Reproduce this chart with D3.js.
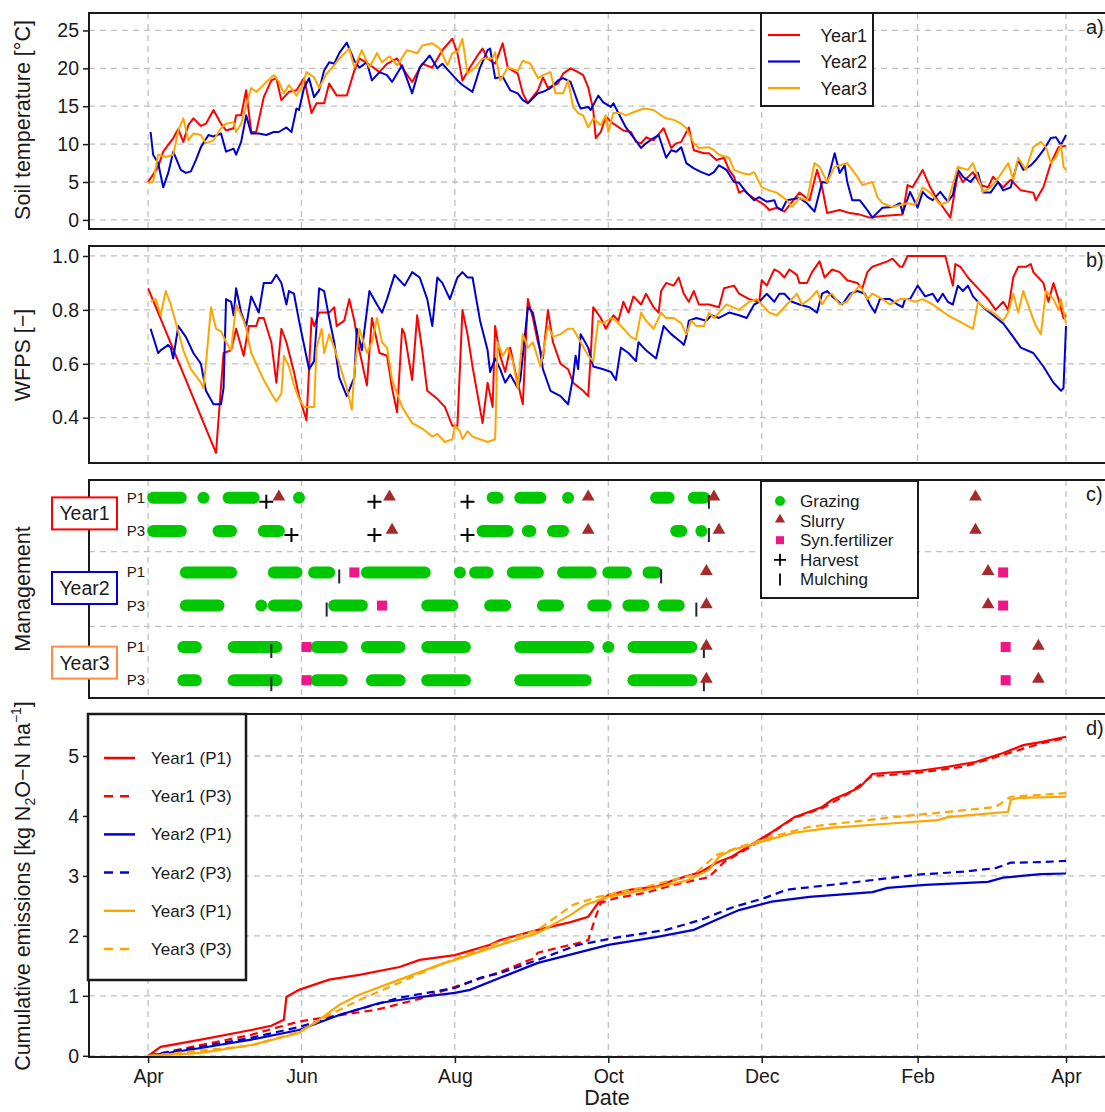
<!DOCTYPE html>
<html>
<head>
<meta charset="utf-8">
<script src="https://cdn.jsdelivr.net/npm/d3@7"></script>
<style>
  body { margin: 0; background: #fff; }
  svg { display: block; font-family: "Liberation Sans", Arial, sans-serif; }
</style>
</head>
<body>
<div id="chart"></div>
<script>
// ---- data (days since 1 April) ----
const monthDays = [0, 61, 122, 183, 244, 306, 365];
const monthLabels = ['Apr', 'Jun', 'Aug', 'Oct', 'Dec', 'Feb', 'Apr'];

const tempTicks = [0, 5, 10, 15, 20, 25];
const wfpsTicks = [0.4, 0.6, 0.8, 1.0];
const cumTicks = [0, 1, 2, 3, 4, 5];

const yearNames = ['Year1', 'Year2', 'Year3'];

// a) soil temperature [day, °C]
const tempY1 = [[0,5.0],[4,7.0],[6,9.0],[10,10.8],[12,12.0],[14,10.3],[16,12.5],[18,13.4],[21,12.4],[23,12.7],[26,14.5],[29,12.7],[31,11.8],[34,12.1],[35,13.8],[37,13.8],[39,17.1],[41,11.6],[43,11.6],[46,16.2],[49,18.4],[51,18.7],[53,15.8],[56,16.9],[59,17.1],[62,18.7],[65,14.1],[67,15.4],[70,15.4],[72,18.0],[75,16.4],[79,16.4],[82,19.7],[84,21.3],[88,20.5],[92,19.5],[95,20.6],[99,21.3],[101,20.1],[105,18.2],[109,20.6],[113,20.1],[117,22.4],[121,23.9],[123,22.0],[125,18.4],[128,20.1],[131,21.7],[133,22.6],[135,21.3],[138,20.6],[141,23.3],[143,20.1],[147,19.3],[149,16.7],[151,15.4],[155,17.1],[157,18.8],[159,17.4],[163,18.0],[165,19.3],[168,20.0],[171,19.5],[173,19.1],[175,17.5],[177,14.5],[178,10.8],[180,11.6],[182,13.6],[185,12.7],[189,11.8],[192,11.6],[194,10.3],[196,10.1],[198,10.9],[201,10.5],[205,12.1],[208,9.5],[210,10.1],[212,10.3],[215,12.2],[217,9.2],[221,8.8],[223,8.8],[226,7.9],[229,8.2],[231,6.6],[233,5.7],[235,3.6],[237,3.9],[239,3.3],[242,2.6],[245,2.0],[247,1.3],[250,1.6],[253,1.1],[259,3.6],[263,2.6],[266,6.6],[268,4.3],[270,0.9],[275,1.3],[279,0.9],[283,0.7],[287,0.3],[292,0.5],[300,0.7],[302,4.6],[304,4.3],[308,6.6],[311,4.3],[314,2.6],[316,1.7],[319,0.3],[322,6.2],[324,5.0],[328,6.3],[331,4.6],[334,4.3],[336,5.7],[340,4.3],[343,5.3],[347,3.9],[352,3.6],[353,2.6],[356,4.3],[359,7.5],[362,9.6],[365,9.8]];
const tempY2 = [[1,11.6],[2,8.6],[4,7.5],[6,4.3],[8,6.2],[10,9.0],[13,6.6],[15,6.2],[17,6.4],[19,7.9],[21,9.6],[24,11.2],[26,11.0],[29,11.4],[31,9.0],[34,9.4],[35,8.6],[37,10.3],[39,13.8],[41,11.4],[44,11.4],[47,11.2],[50,11.6],[52,11.6],[55,12.2],[57,11.6],[59,14.7],[60,14.5],[62,17.4],[64,18.7],[66,16.2],[68,17.1],[70,19.7],[72,20.8],[74,20.6],[76,22.0],[79,23.4],[82,21.0],[84,20.1],[87,20.8],[89,18.4],[92,19.5],[95,19.1],[97,18.2],[101,20.4],[105,16.7],[108,20.1],[112,21.7],[115,20.0],[117,20.6],[120,19.5],[123,18.4],[125,17.8],[129,16.9],[132,20.1],[135,22.4],[136,22.6],[138,18.7],[141,18.9],[144,17.1],[147,16.7],[149,15.8],[151,15.4],[155,16.7],[157,16.9],[160,17.4],[163,18.4],[165,18.7],[168,18.2],[171,15.4],[172,14.7],[175,14.9],[176,14.5],[179,16.4],[181,15.5],[184,14.9],[185,15.4],[187,14.1],[190,12.2],[193,10.9],[196,9.5],[198,10.1],[201,10.8],[203,11.2],[206,8.2],[208,9.2],[210,9.0],[212,9.6],[214,7.5],[217,6.8],[220,6.3],[223,5.9],[225,6.3],[227,7.2],[230,6.6],[233,5.0],[235,4.9],[238,3.6],[241,2.6],[243,3.0],[246,2.4],[249,2.6],[250,1.7],[252,1.3],[254,2.6],[259,2.9],[262,2.2],[265,1.1],[268,5.0],[270,4.9],[273,8.8],[275,6.2],[277,7.2],[278,5.0],[280,2.6],[283,2.6],[286,1.3],[288,0.3],[292,1.6],[296,1.7],[299,2.2],[300,0.9],[303,3.7],[306,1.6],[308,3.7],[310,3.0],[312,2.6],[315,3.7],[318,2.4],[320,3.3],[322,6.6],[324,5.7],[327,5.0],[330,6.2],[332,3.6],[335,3.6],[338,5.0],[340,3.9],[343,4.3],[346,7.9],[348,6.6],[351,7.2],[353,7.9],[356,9.2],[359,10.8],[361,10.9],[363,9.9],[365,11.2]];
const tempY3 = [[0,4.9],[2,5.0],[4,8.6],[7,8.3],[10,8.6],[12,11.8],[14,13.4],[16,10.5],[18,11.4],[21,11.2],[23,10.1],[26,10.5],[29,12.1],[31,12.7],[34,12.9],[35,11.6],[37,12.7],[39,15.1],[41,17.4],[43,16.9],[45,17.5],[47,18.2],[50,19.1],[52,18.2],[54,16.7],[56,17.8],[59,16.4],[61,17.4],[63,19.5],[66,18.8],[68,17.4],[71,19.3],[74,20.4],[76,21.3],[80,22.6],[82,20.1],[85,22.4],[88,20.1],[91,22.0],[93,20.8],[96,21.6],[99,20.4],[103,22.4],[107,22.0],[109,23.0],[113,23.3],[116,22.6],[119,20.4],[121,22.0],[123,22.2],[125,23.9],[127,19.3],[130,20.1],[133,21.3],[137,21.3],[138,22.1],[140,18.4],[143,20.1],[147,19.7],[149,21.0],[152,20.6],[155,18.7],[157,19.1],[160,19.5],[162,16.7],[165,16.7],[167,18.4],[169,14.9],[171,14.1],[173,13.8],[175,12.2],[177,13.4],[180,12.5],[182,13.8],[183,11.6],[185,14.1],[188,14.1],[190,13.8],[193,14.2],[197,14.7],[201,14.5],[204,13.8],[206,13.4],[209,13.2],[212,12.7],[214,12.1],[217,10.1],[219,9.5],[223,9.6],[225,9.2],[227,8.6],[231,8.2],[233,6.6],[236,6.2],[239,6.0],[241,6.3],[244,4.3],[247,3.9],[250,3.6],[254,2.6],[256,1.7],[259,2.9],[262,2.6],[265,7.5],[267,7.0],[270,5.0],[273,7.0],[278,7.5],[282,5.7],[284,4.6],[288,5.0],[290,3.0],[292,2.2],[296,1.7],[302,2.2],[305,2.0],[308,4.3],[311,3.6],[315,2.0],[318,2.4],[322,7.0],[326,6.6],[328,7.5],[332,3.7],[335,4.3],[338,5.5],[342,7.5],[344,5.3],[346,8.2],[349,6.6],[352,9.6],[355,10.3],[357,9.6],[359,7.5],[361,8.3],[363,9.9],[364,7.0],[365,6.6]];

// b) WFPS [day, -]
const wfpsY1 = [[0,0.88],[27,0.27],[30,0.64],[33,0.65],[35,0.73],[38,0.63],[40,0.74],[43,0.74],[44,0.77],[46,0.77],[49,0.68],[51,0.53],[53,0.73],[55,0.68],[58,0.57],[60,0.48],[63,0.39],[65,0.77],[66,0.74],[68,0.79],[72,0.79],[74,0.81],[75,0.74],[78,0.76],[80,0.84],[82,0.76],[84,0.65],[87,0.52],[89,0.77],[92,0.64],[95,0.63],[97,0.51],[99,0.42],[101,0.73],[102,0.71],[105,0.54],[107,0.78],[109,0.65],[111,0.50],[115,0.47],[118,0.44],[121,0.37],[123,0.37],[125,0.80],[127,0.71],[129,0.59],[133,0.38],[135,0.53],[137,0.44],[138,0.74],[140,0.63],[142,0.57],[144,0.66],[146,0.57],[149,0.45],[151,0.84],[153,0.77],[155,0.68],[157,0.62],[159,0.80],[161,0.68],[164,0.60],[167,0.58],[169,0.53],[173,0.50],[175,0.48],[176,0.63],[177,0.81],[180,0.77],[182,0.73],[185,0.78],[187,0.76],[189,0.83],[191,0.79],[193,0.85],[196,0.82],[198,0.86],[201,0.81],[203,0.79],[204,0.87],[206,0.90],[209,0.89],[211,0.92],[213,0.86],[215,0.83],[217,0.87],[219,0.82],[223,0.82],[227,0.81],[229,0.88],[233,0.89],[235,0.86],[239,0.84],[243,0.83],[244,0.91],[246,0.89],[249,0.95],[251,0.94],[253,0.92],[255,0.95],[258,0.93],[259,0.90],[262,0.90],[264,0.94],[267,0.98],[269,0.92],[272,0.95],[275,0.94],[278,0.91],[282,0.90],[284,0.88],[286,0.94],[288,0.96],[294,0.98],[296,0.99],[299,0.96],[300,0.96],[302,1.00],[317,1.00],[320,0.89],[321,0.97],[323,0.96],[326,0.92],[330,0.88],[334,0.84],[337,0.80],[340,0.83],[342,0.80],[344,0.92],[346,0.96],[349,0.96],[351,0.97],[352,0.94],[356,0.90],[358,0.83],[360,0.90],[362,0.84],[364,0.77],[365,0.78]];
const wfpsY2 = [[1,0.73],[4,0.64],[5,0.65],[8,0.67],[9,0.66],[10,0.62],[12,0.74],[15,0.70],[18,0.64],[21,0.60],[23,0.50],[26,0.45],[29,0.45],[30,0.51],[31,0.84],[33,0.83],[34,0.78],[35,0.88],[37,0.79],[39,0.74],[41,0.85],[44,0.79],[46,0.90],[49,0.90],[51,0.93],[53,0.90],[55,0.82],[56,0.87],[58,0.86],[60,0.76],[64,0.58],[66,0.61],[68,0.88],[70,0.87],[72,0.77],[74,0.68],[76,0.55],[79,0.48],[82,0.55],[83,0.73],[85,0.65],[88,0.87],[91,0.82],[93,0.79],[95,0.84],[98,0.93],[100,0.91],[102,0.89],[105,0.94],[108,0.92],[111,0.84],[113,0.74],[115,0.92],[117,0.90],[120,0.84],[123,0.92],[125,0.94],[127,0.92],[129,0.92],[132,0.76],[135,0.65],[136,0.57],[138,0.62],[140,0.58],[142,0.53],[144,0.56],[147,0.51],[148,0.54],[151,0.81],[153,0.79],[155,0.70],[157,0.58],[160,0.50],[164,0.48],[167,0.45],[169,0.55],[170,0.63],[171,0.58],[172,0.71],[175,0.66],[177,0.59],[181,0.58],[184,0.57],[186,0.54],[188,0.66],[191,0.64],[194,0.61],[195,0.68],[198,0.65],[202,0.62],[205,0.74],[208,0.71],[212,0.68],[213,0.67],[214,0.70],[215,0.76],[218,0.77],[222,0.76],[224,0.78],[227,0.77],[231,0.79],[235,0.78],[238,0.77],[241,0.82],[243,0.83],[246,0.86],[249,0.83],[251,0.86],[253,0.86],[256,0.83],[259,0.82],[263,0.81],[266,0.79],[268,0.86],[270,0.87],[272,0.85],[276,0.82],[279,0.86],[282,0.87],[285,0.86],[287,0.82],[289,0.79],[291,0.84],[295,0.84],[298,0.82],[300,0.81],[301,0.84],[303,0.84],[306,0.89],[309,0.85],[312,0.86],[314,0.83],[316,0.86],[318,0.83],[320,0.82],[322,0.89],[324,0.87],[326,0.89],[328,0.85],[332,0.81],[336,0.78],[340,0.75],[344,0.70],[347,0.66],[352,0.64],[356,0.59],[360,0.53],[363,0.50],[364,0.51],[365,0.74]];
const wfpsY3 = [[1,0.83],[3,0.84],[5,0.78],[7,0.87],[9,0.82],[12,0.72],[14,0.65],[17,0.58],[21,0.53],[22,0.51],[23,0.60],[25,0.81],[27,0.73],[29,0.72],[31,0.68],[33,0.65],[35,0.82],[38,0.76],[39,0.73],[41,0.64],[43,0.60],[46,0.54],[49,0.49],[51,0.46],[53,0.49],[54,0.63],[56,0.59],[58,0.52],[60,0.47],[62,0.44],[66,0.44],[67,0.66],[69,0.73],[70,0.64],[72,0.71],[74,0.66],[76,0.60],[79,0.51],[81,0.43],[82,0.57],[84,0.73],[87,0.64],[89,0.68],[91,0.77],[93,0.68],[95,0.66],[97,0.54],[101,0.44],[105,0.38],[109,0.36],[113,0.33],[115,0.34],[118,0.31],[121,0.32],[122,0.37],[124,0.35],[125,0.32],[127,0.35],[129,0.33],[132,0.32],[135,0.31],[138,0.32],[139,0.68],[141,0.63],[143,0.66],[145,0.61],[147,0.51],[149,0.71],[151,0.66],[153,0.68],[156,0.59],[159,0.74],[161,0.70],[164,0.71],[167,0.73],[169,0.73],[172,0.68],[175,0.63],[177,0.61],[179,0.76],[181,0.75],[184,0.77],[186,0.76],[189,0.73],[192,0.70],[194,0.69],[196,0.79],[198,0.76],[201,0.73],[204,0.79],[206,0.77],[209,0.77],[212,0.75],[214,0.71],[216,0.76],[218,0.74],[221,0.74],[223,0.79],[225,0.77],[227,0.79],[230,0.82],[235,0.80],[239,0.83],[242,0.84],[245,0.81],[247,0.79],[250,0.78],[254,0.82],[258,0.86],[260,0.82],[263,0.84],[266,0.87],[268,0.82],[270,0.85],[272,0.86],[275,0.82],[278,0.83],[280,0.86],[283,0.89],[286,0.84],[288,0.86],[292,0.84],[295,0.82],[299,0.84],[302,0.84],[305,0.83],[308,0.84],[312,0.82],[315,0.80],[318,0.78],[322,0.76],[326,0.74],[328,0.73],[330,0.83],[332,0.81],[336,0.79],[340,0.76],[342,0.79],[344,0.86],[346,0.79],[348,0.87],[351,0.79],[353,0.74],[355,0.71],[357,0.87],[360,0.84],[362,0.80],[363,0.84],[365,0.75]];

// c) management: [row, first day, last day] or [row, day]
const rowNames = ['Y1P1', 'Y1P3', 'Y2P1', 'Y2P3', 'Y3P1', 'Y3P3'];
const rowLabels = ['P1', 'P3', 'P1', 'P3', 'P1', 'P3'];
const rowLevels = [5.6, 4.8, 3.8, 3.0, 2.0, 1.2];
const groupBreaks = [4.3, 2.5];
const grazing = [
  ['Y1P1',2,13],['Y1P1',22,22],['Y1P1',32,42],['Y1P1',60,60],['Y1P1',137,139],['Y1P1',148,156],['Y1P1',167,167],['Y1P1',202,207],['Y1P1',217,221],
  ['Y1P3',2,13],['Y1P3',28,33],['Y1P3',46,52],['Y1P3',133,143],['Y1P3',151,152],['Y1P3',161,165],['Y1P3',210,212],['Y1P3',220,220],
  ['Y2P1',15,33],['Y2P1',50,59],['Y2P1',66,72],['Y2P1',87,110],['Y2P1',124,124],['Y2P1',130,135],['Y2P1',145,155],['Y2P1',165,176],['Y2P1',183,190],['Y2P1',199,202],
  ['Y2P3',15,28],['Y2P3',45,45],['Y2P3',50,59],['Y2P3',74,85],['Y2P3',111,121],['Y2P3',136,142],['Y2P3',157,163],['Y2P3',177,182],['Y2P3',191,197],['Y2P3',205,211],
  ['Y3P1',14,19],['Y3P1',34,51],['Y3P1',67,77],['Y3P1',87,100],['Y3P1',111,126],['Y3P1',148,175],['Y3P1',183,183],['Y3P1',193,216],
  ['Y3P3',14,19],['Y3P3',34,51],['Y3P3',67,77],['Y3P3',89,100],['Y3P3',111,126],['Y3P3',148,174],['Y3P3',193,216]
];
const slurry = [['Y1P1',52],['Y1P1',96],['Y1P1',175],['Y1P1',225],['Y1P1',329],['Y1P3',97],['Y1P3',175],['Y1P3',227],['Y1P3',329],
  ['Y2P1',222],['Y2P1',334],['Y2P3',222],['Y2P3',334],['Y3P1',222],['Y3P1',354],['Y3P3',222],['Y3P3',354]];
const synFert = [['Y2P1',82],['Y2P1',340],['Y2P3',93],['Y2P3',340],['Y3P1',63],['Y3P1',341],['Y3P3',63],['Y3P3',341]];
const harvest = [['Y1P1',47],['Y1P1',90],['Y1P1',127],['Y1P3',57],['Y1P3',90],['Y1P3',127]];
const mulching = [['Y1P1',223],['Y1P3',223],['Y2P1',76],['Y2P1',204],['Y2P3',71],['Y2P3',218],['Y3P1',49],['Y3P1',221],['Y3P3',49],['Y3P3',221]];
const mgmtLegend = ['Grazing', 'Slurry', 'Syn.fertilizer', 'Harvest', 'Mulching'];

// d) cumulative N2O emissions [day, kg N2O-N/ha]
const cumY1P1 = [[0,0],[5,0.15],[21,0.27],[41,0.43],[49,0.5],[54,0.6],[55,0.98],[60,1.1],[72,1.27],[84,1.35],[100,1.48],[108,1.6],[122,1.68],[136,1.85],[140,1.93],[155,2.1],[168,2.23],[175,2.32],[179,2.55],[183,2.68],[192,2.77],[202,2.82],[209,2.93],[220,3.07],[226,3.22],[232,3.32],[241,3.55],[248,3.73],[257,3.98],[268,4.15],[272,4.27],[278,4.38],[283,4.48],[288,4.7],[294,4.72],[306,4.75],[318,4.82],[329,4.9],[340,5.05],[348,5.18],[355,5.23],[365,5.32]];
const cumY1P3 = [[0,0],[21,0.18],[41,0.35],[52,0.48],[60,0.57],[72,0.65],[91,0.77],[108,0.95],[122,1.15],[140,1.4],[153,1.62],[155,1.72],[171,1.88],[175,1.93],[178,2.32],[180,2.55],[186,2.63],[198,2.72],[209,2.85],[223,2.98],[229,3.23],[239,3.47],[248,3.72],[257,3.97],[268,4.13],[278,4.36],[288,4.67],[294,4.68],[306,4.72],[324,4.82],[340,5.02],[355,5.21],[365,5.3]];
const cumY2P1 = [[0,0],[21,0.13],[41,0.27],[60,0.43],[76,0.68],[92,0.88],[108,0.98],[122,1.05],[128,1.1],[140,1.3],[155,1.55],[171,1.72],[183,1.85],[202,1.98],[217,2.1],[226,2.27],[235,2.43],[248,2.57],[263,2.65],[288,2.73],[294,2.8],[309,2.85],[334,2.9],[340,2.97],[355,3.03],[365,3.04]];
const cumY2P3 = [[0,0],[41,0.3],[60,0.48],[80,0.73],[100,0.97],[122,1.13],[132,1.3],[140,1.38],[155,1.6],[171,1.85],[186,1.97],[206,2.1],[220,2.27],[232,2.47],[245,2.63],[254,2.77],[278,2.88],[306,3.02],[324,3.07],[337,3.13],[343,3.22],[355,3.23],[365,3.25]];
const cumY3P1 = [[0,0],[21,0.05],[41,0.18],[60,0.38],[68,0.6],[76,0.85],[84,1.02],[100,1.27],[116,1.52],[122,1.6],[140,1.85],[155,2.05],[168,2.35],[174,2.52],[183,2.65],[198,2.77],[214,2.92],[223,3.1],[227,3.32],[232,3.43],[244,3.57],[257,3.72],[271,3.8],[294,3.87],[314,3.93],[318,3.98],[342,4.07],[343,4.27],[346,4.3],[365,4.32]];
const cumY3P3 = [[0,0],[41,0.17],[60,0.4],[72,0.68],[84,0.93],[100,1.22],[116,1.52],[140,1.9],[155,2.1],[169,2.52],[179,2.65],[198,2.82],[217,3.02],[226,3.35],[235,3.48],[248,3.65],[263,3.82],[294,3.97],[314,4.05],[337,4.15],[343,4.32],[365,4.38]];
const cumNames = ['Year1 (P1)', 'Year1 (P3)', 'Year2 (P1)', 'Year2 (P3)', 'Year3 (P1)', 'Year3 (P3)'];

// ---- drawing ----
const W = 1105, H = 1112;
const left = 89, right = 1106;
const red = '#ff0000', blue = '#0000d0', orange = '#ffa500';
const yearColors = [red, blue, orange];
const boxColors = [red, blue, '#ff8c40'];
const gridColor = '#c0c0c0';
const ink = '#1a1a1a';
const tickFont = '19.5px';
const titleFont = '21.5px';

const svg = d3.select('#chart').append('svg')
  .attr('width', W)
  .attr('height', H);

const x = d3.scaleLinear().domain([-23.5, 380.9]).range([left, right]);

function makePanel(id, top, bottom, domain, hGrid) {
  const y = d3.scaleLinear().domain(domain).range([bottom, top]);
  const g = svg.append('g').attr('class', 'panel-' + id);

  g.append('clipPath').attr('id', 'clip-' + id)
    .append('rect')
    .attr('x', left).attr('y', top)
    .attr('width', right - left).attr('height', bottom - top);

  g.append('g').selectAll('line').data(monthDays).join('line')
    .attr('x1', d => x(d)).attr('x2', d => x(d))
    .attr('y1', top).attr('y2', bottom)
    .attr('stroke', gridColor).attr('stroke-width', 1.3)
    .attr('stroke-dasharray', '6,5');

  g.append('g').selectAll('line').data(hGrid).join('line')
    .attr('x1', left).attr('x2', right)
    .attr('y1', d => y(d)).attr('y2', d => y(d))
    .attr('stroke', gridColor).attr('stroke-width', 1.3)
    .attr('stroke-dasharray', '6,5');

  const plot = g.append('g').attr('clip-path', `url(#clip-${id})`);
  return { id, top, bottom, y, g, plot };
}

function frame(p, label) {
  p.g.append('rect')
    .attr('x', left).attr('y', p.top)
    .attr('width', right - left).attr('height', p.bottom - p.top)
    .attr('fill', 'none').attr('stroke', ink).attr('stroke-width', 2);
  p.g.append('text')
    .attr('x', 1086).attr('y', p.top + 21)
    .style('font-size', '20px').style('fill', ink)
    .text(label);
}

function leftAxis(p, ticks, fmt) {
  const ax = p.g.append('g')
    .attr('transform', `translate(${left},0)`)
    .call(d3.axisLeft(p.y).tickValues(ticks).tickFormat(fmt).tickSize(6).tickPadding(4));
  ax.select('.domain').remove();
  ax.selectAll('line').attr('stroke', ink).attr('stroke-width', 1.5);
  ax.selectAll('text').style('font-size', tickFont).style('fill', ink)
    .style('font-family', '"Liberation Sans", Arial, sans-serif');
}

function yTitle(cy, build) {
  const t = svg.append('text')
    .attr('transform', `translate(30,${cy}) rotate(-90)`)
    .attr('text-anchor', 'middle')
    .style('font-size', titleFont).style('fill', ink);
  build(t);
}

const line = y => d3.line().x(d => x(d[0])).y(d => y(d[1]));

// panel a
const pa = makePanel('a', 13, 229, [-1.2, 27.3], tempTicks);
[tempY1, tempY2, tempY3].forEach((s, i) => {
  pa.plot.append('path').datum(s)
    .attr('fill', 'none').attr('stroke', yearColors[i])
    .attr('stroke-width', 2).attr('stroke-linejoin', 'round')
    .attr('d', line(pa.y));
});
leftAxis(pa, tempTicks, d3.format('d'));
frame(pa, 'a)');
yTitle(120, t => t.text('Soil temperature [°C]'));

const legA = pa.g.append('g');
legA.append('rect').attr('x', 761).attr('y', 13).attr('width', 112).attr('height', 93)
  .attr('fill', '#fff').attr('stroke', ink).attr('stroke-width', 2);
yearNames.forEach((n, i) => {
  const yy = 35 + i * 26.5;
  legA.append('line').attr('x1', 768).attr('x2', 800).attr('y1', yy).attr('y2', yy)
    .attr('stroke', yearColors[i]).attr('stroke-width', 2.2);
  legA.append('text').attr('x', 867).attr('y', yy + 6.5).attr('text-anchor', 'end')
    .style('font-size', '18px').style('fill', ink).text(n);
});

// panel b
const pb = makePanel('b', 246, 463, [0.232, 1.037], wfpsTicks);
[wfpsY1, wfpsY2, wfpsY3].forEach((s, i) => {
  pb.plot.append('path').datum(s)
    .attr('fill', 'none').attr('stroke', yearColors[i])
    .attr('stroke-width', 2).attr('stroke-linejoin', 'round')
    .attr('d', line(pb.y));
});
leftAxis(pb, wfpsTicks, d3.format('.1f'));
frame(pb, 'b)');
yTitle(355, t => t.text('WFPS [\u2212]'));

// panel c
const pc = makePanel('c', 480, 698, [0.77, 6.03], groupBreaks);
const rowY = r => pc.y(rowLevels[rowNames.indexOf(r)]);
const dotR = 6;

pc.plot.append('g').selectAll('rect').data(grazing).join('rect')
  .attr('x', d => x(d[1]) - dotR)
  .attr('y', d => rowY(d[0]) - dotR)
  .attr('width', d => x(d[2]) - x(d[1]) + 2 * dotR)
  .attr('height', 2 * dotR)
  .attr('rx', dotR).attr('ry', dotR)
  .attr('fill', '#00c800');

pc.plot.append('g').selectAll('path').data(harvest).join('path')
  .attr('d', d => {
    const cx = x(d[1]), cy = rowY(d[0]) + 4;
    return `M${cx - 7},${cy}H${cx + 7}M${cx},${cy - 7}V${cy + 7}`;
  })
  .attr('stroke', '#000').attr('stroke-width', 2);

pc.plot.append('g').selectAll('line').data(mulching).join('line')
  .attr('x1', d => x(d[1])).attr('x2', d => x(d[1]))
  .attr('y1', d => rowY(d[0]) - 3).attr('y2', d => rowY(d[0]) + 11)
  .attr('stroke', '#22223a').attr('stroke-width', 2);

const tri = d3.symbol().type(d3.symbolTriangle).size(70);
pc.plot.append('g').selectAll('path').data(slurry).join('path')
  .attr('transform', d => `translate(${x(d[1])},${rowY(d[0]) - 1})`)
  .attr('d', tri)
  .attr('fill', '#a52a2a');

pc.plot.append('g').selectAll('rect').data(synFert).join('rect')
  .attr('x', d => x(d[1]) - 5).attr('y', d => rowY(d[0]) - 5)
  .attr('width', 10).attr('height', 10)
  .attr('fill', '#f0168a');

pc.g.append('g').selectAll('text').data(rowNames).join('text')
  .attr('x', 145).attr('y', (d, i) => pc.y(rowLevels[i]) + 5)
  .attr('text-anchor', 'end')
  .style('font-size', '15px').style('fill', ink)
  .text((d, i) => rowLabels[i]);

frame(pc, 'c)');
yTitle(589, t => t.text('Management'));

yearNames.forEach((n, i) => {
  const cy = (pc.y(rowLevels[2 * i]) + pc.y(rowLevels[2 * i + 1])) / 2 - 1;
  pc.g.append('rect').attr('x', 52).attr('y', cy - 16).attr('width', 65).attr('height', 32)
    .attr('fill', '#fff').attr('stroke', boxColors[i]).attr('stroke-width', 2);
  pc.g.append('text').attr('x', 84.5).attr('y', cy + 7).attr('text-anchor', 'middle')
    .style('font-size', '19.5px').style('fill', ink).text(n);
});

const legC = pc.g.append('g');
legC.append('rect').attr('x', 761).attr('y', 481).attr('width', 157).attr('height', 117)
  .attr('fill', '#fff').attr('stroke', ink).attr('stroke-width', 2);
mgmtLegend.forEach((n, i) => {
  const yy = 501 + i * 19.6;
  const sx = 780;
  if (i === 0) legC.append('circle').attr('cx', sx).attr('cy', yy).attr('r', 5).attr('fill', '#00c800');
  if (i === 1) legC.append('path').attr('transform', `translate(${sx},${yy - 1})`)
    .attr('d', d3.symbol().type(d3.symbolTriangle).size(45)).attr('fill', '#a52a2a');
  if (i === 2) legC.append('rect').attr('x', sx - 4).attr('y', yy - 4).attr('width', 8).attr('height', 8).attr('fill', '#f0168a');
  if (i === 3) legC.append('path').attr('d', `M${sx - 6},${yy}H${sx + 6}M${sx},${yy - 6}V${yy + 6}`)
    .attr('stroke', '#000').attr('stroke-width', 1.8);
  if (i === 4) legC.append('line').attr('x1', sx).attr('x2', sx).attr('y1', yy - 6).attr('y2', yy + 6)
    .attr('stroke', '#000').attr('stroke-width', 1.8);
  legC.append('text').attr('x', 800).attr('y', yy + 6)
    .style('font-size', '17px').style('fill', ink).text(n);
});

// panel d
const pd = makePanel('d', 714, 1057, [-0.02, 5.7], cumTicks);
const cumSeries = [cumY1P1, cumY1P3, cumY2P1, cumY2P3, cumY3P1, cumY3P3];
cumSeries.forEach((s, i) => {
  pd.plot.append('path').datum(s)
    .attr('fill', 'none').attr('stroke', yearColors[Math.floor(i / 2)])
    .attr('stroke-width', 2.2)
    .attr('stroke-dasharray', i % 2 ? '8,5' : null)
    .attr('d', line(pd.y));
});
leftAxis(pd, cumTicks, d3.format('d'));

const xAx = pd.g.append('g')
  .attr('transform', `translate(0,${pd.bottom})`)
  .call(d3.axisBottom(x).tickValues(monthDays).tickFormat((d, i) => monthLabels[i]).tickSize(6).tickPadding(6));
xAx.select('.domain').remove();
xAx.selectAll('line').attr('stroke', ink).attr('stroke-width', 1.5);
xAx.selectAll('text').style('font-size', tickFont).style('fill', ink)
  .style('font-family', '"Liberation Sans", Arial, sans-serif');

frame(pd, 'd)');

const legD = pd.g.append('g');
legD.append('rect').attr('x', 88).attr('y', 714).attr('width', 158).attr('height', 266)
  .attr('fill', '#fff').attr('stroke', ink).attr('stroke-width', 2.5);
cumNames.forEach((n, i) => {
  const yy = 758 + i * 38.2;
  legD.append('line').attr('x1', 104).attr('x2', 135).attr('y1', yy).attr('y2', yy)
    .attr('stroke', yearColors[Math.floor(i / 2)]).attr('stroke-width', 2.5)
    .attr('stroke-dasharray', i % 2 ? '9,7' : null);
  legD.append('text').attr('x', 151).attr('y', yy + 6)
    .style('font-size', '17px').style('fill', ink).text(n);
});

yTitle(886, t => {
  t.append('tspan').text('Cumulative emissions [kg N');
  t.append('tspan').attr('dy', 5).style('font-size', '14px').text('2');
  t.append('tspan').attr('dy', -5).text('O\u2212N ha');
  t.append('tspan').attr('dy', -9).style('font-size', '14px').text('\u22121');
  t.append('tspan').attr('dy', 9).text(']');
});

svg.append('text')
  .attr('x', (x(0) + x(365)) / 2).attr('y', 1105)
  .attr('text-anchor', 'middle')
  .style('font-size', titleFont).style('fill', ink)
  .text('Date');
</script>
</body>
</html>
